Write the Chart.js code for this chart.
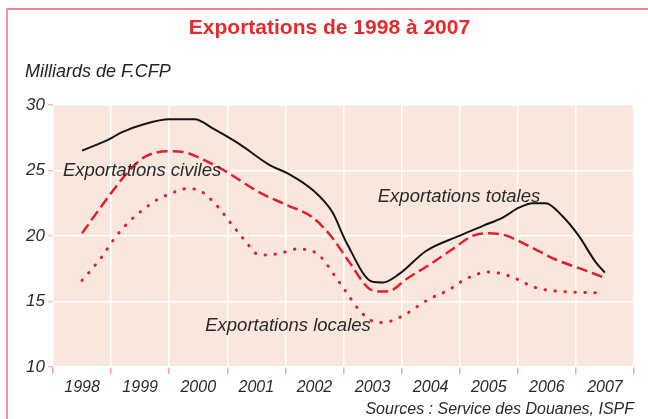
<!DOCTYPE html>
<html lang="fr">
<head>
    <meta charset="UTF-8">
    <title>Exportations de 1998 à 2007</title>
    <script src="https://cdn.jsdelivr.net/npm/chart.js"></script>
    <style>
        body {
            margin: 0;
            width: 648px;
            height: 419px;
            overflow: hidden;
            background: #fff;
            position: relative;
        }
        .cadre {
            position: absolute;
            left: 6px;
            top: 8px;
            width: 700px;
            height: 500px;
            border-left: 2px solid #f29696;
            border-top: 2px solid #f08888;
        }
        canvas {
            position: absolute;
            left: 0;
            top: 0;
        }
    </style>
</head>
<body>
<div class="cadre"></div>
<canvas id="exportChart" width="648" height="419"></canvas>

<script>
    // Années (catégories de l'axe X)
    const annees = ['1998', '1999', '2000', '2001', '2002', '2003', '2004', '2005', '2006', '2007'];
    const graduationsY = [10, 15, 20, 25, 30];

    // Exportations totales (milliards de F.CFP)
    const totalesX = [1998.0, 1998.48, 1998.68, 1999.05, 1999.5, 1999.94, 2000.25, 2000.71, 2001.23, 2001.57,
        2001.97, 2002.31, 2002.55, 2003.0, 2003.18, 2003.46, 2003.92, 2004.49, 2004.89, 2005.24,
        2005.52, 2005.75, 2005.98, 2006.27, 2006.55, 2006.84, 2007.0];
    const totalesY = [26.5, 27.4, 27.9, 28.5, 28.9, 28.9, 28.2, 27.0, 25.4, 24.7,
        23.5, 21.8, 19.5, 16.5, 16.45, 17.1, 18.85, 20.0, 20.75, 21.4,
        22.15, 22.5, 22.5, 21.5, 20.0, 18.0, 17.2];

    // Exportations civiles
    const civilesX = [1998.0, 1998.54, 1998.88, 1999.11, 1999.5, 1999.74, 2000.14, 2000.48, 2001.06, 2001.5,
        2001.97, 2002.3, 2002.6, 2002.95, 2003.15, 2003.3, 2003.58, 2003.98, 2004.38, 2004.72,
        2004.95, 2005.24, 2005.7, 2006.15, 2006.61, 2007.0];
    const civilesY = [20.2, 23.5, 25.3, 26.1, 26.45, 26.4, 25.7, 24.9, 23.3, 22.4,
        21.4, 19.9, 18.0, 15.95, 15.75, 15.8, 16.7, 17.8, 19.0, 20.0,
        20.2, 20.1, 19.2, 18.2, 17.45, 16.8];

    // Exportations locales
    const localesX = [1998.0, 1998.34, 1998.54, 1998.77, 1999.05, 1999.31, 1999.51, 1999.8, 2000.0, 2000.25,
        2000.6, 2000.83, 2001.0, 2001.2, 2001.52, 2001.69, 2002.03, 2002.15, 2002.35, 2002.55,
        2002.75, 2003.0, 2003.18, 2003.52, 2003.8, 2003.98, 2004.32, 2004.6, 2005.0, 2005.35,
        2005.81, 2006.15, 2006.5, 2006.95];
    const localesY = [16.6, 18.4, 19.7, 20.9, 22.0, 22.8, 23.2, 23.6, 23.5, 22.65,
        20.75, 19.5, 18.65, 18.55, 18.8, 19.0, 18.7, 18.2, 16.95, 15.7,
        14.45, 13.5, 13.4, 13.9, 14.7, 15.2, 15.9, 16.7, 17.25, 16.95,
        16.05, 15.8, 15.7, 15.65];

    const police = "'Liberation Sans', Arial, sans-serif";
    const rose = '#f3a3aa';

    function points(xs, ys) {
        return xs.map((x, i) => ({ x: x, y: ys[i] }));
    }

    // fond saumon de la zone de tracé
    const fondPlugin = {
        id: 'fond',
        beforeDraw(chart) {
            const a = chart.chartArea;
            const ctx = chart.ctx;
            ctx.save();
            ctx.fillStyle = '#f9e7dd';
            ctx.fillRect(a.left, a.top, a.right - a.left, a.bottom - a.top);
            ctx.restore();
        }
    };

    // étiquettes des courbes
    const etiquettes = [
        { texte: 'Exportations civiles', x: 1997.67, y: 24.95 },
        { texte: 'Exportations totales', x: 2003.09, y: 23.0 },
        { texte: 'Exportations locales', x: 2000.12, y: 13.1 }
    ];
    const etiquettesPlugin = {
        id: 'etiquettes',
        afterDatasetsDraw(chart) {
            const ctx = chart.ctx;
            const sx = chart.scales.x, sy = chart.scales.y;
            ctx.save();
            ctx.font = 'italic 18.5px ' + police;
            ctx.fillStyle = '#2a2a2a';
            ctx.textAlign = 'left';
            ctx.textBaseline = 'middle';
            etiquettes.forEach(e => {
                ctx.fillText(e.texte, sx.getPixelForValue(e.x), sy.getPixelForValue(e.y));
            });
            ctx.restore();
        }
    };

    const config = {
        type: 'line',
        data: {
            datasets: [
                {
                    label: 'Exportations totales',
                    data: points(totalesX, totalesY),
                    borderColor: '#151515',
                    borderWidth: 2,
                    pointRadius: 0,
                    cubicInterpolationMode: 'monotone'
                },
                {
                    label: 'Exportations civiles',
                    data: points(civilesX, civilesY),
                    borderColor: '#e2202c',
                    borderWidth: 2.5,
                    borderDash: [11, 5],
                    pointRadius: 0,
                    cubicInterpolationMode: 'monotone'
                },
                {
                    label: 'Exportations locales',
                    data: points(localesX, localesY),
                    borderColor: '#e2202c',
                    borderWidth: 3,
                    borderDash: [0.5, 9.5],
                    borderCapStyle: 'round',
                    pointRadius: 0,
                    cubicInterpolationMode: 'monotone'
                }
            ]
        },
        options: {
            responsive: false,
            animation: false,
            devicePixelRatio: 1,
            layout: {
                padding: { left: 25, right: 14, top: 0, bottom: 0 }
            },
            plugins: {
                legend: { display: false },
                tooltip: { enabled: false },
                title: {
                    display: true,
                    text: 'Exportations de 1998 à 2007',
                    color: '#e8292b',
                    font: { family: police, size: 21, weight: 'bold', lineHeight: 1.2 },
                    padding: { top: 16, bottom: 8 }
                },
                subtitle: {
                    display: true,
                    text: 'Milliards de F.CFP',
                    align: 'start',
                    color: '#222',
                    font: { family: police, size: 18, style: 'italic', lineHeight: 1.2 },
                    padding: { top: 12, bottom: 22 }
                }
            },
            scales: {
                x: {
                    type: 'linear',
                    min: 1997.5,
                    max: 2007.5,
                    afterBuildTicks(scale) {
                        const t = [];
                        annees.forEach(a => {
                            t.push({ value: +a - 0.5 });
                            t.push({ value: +a });
                        });
                        t.push({ value: +annees[annees.length - 1] + 0.5 });
                        scale.ticks = t;
                    },
                    afterFit(scale) {
                        scale.height = 52;
                    },
                    border: { display: false },
                    grid: {
                        color: c => (c.tick && !Number.isInteger(c.tick.value)) ? '#ffffff' : 'rgba(0,0,0,0)',
                        tickColor: c => (c.tick && !Number.isInteger(c.tick.value)) ? rose : 'rgba(0,0,0,0)',
                        lineWidth: 1.5,
                        tickWidth: 1.5,
                        tickLength: 7
                    },
                    ticks: {
                        autoSkip: false,
                        maxRotation: 0,
                        padding: 4,
                        color: '#2a2a2a',
                        font: { family: police, size: 16, style: 'italic' },
                        callback: v => Number.isInteger(v) ? String(v) : ''
                    },
                    title: {
                        display: true,
                        text: 'Sources : Service des Douanes, ISPF',
                        align: 'end',
                        color: '#2a2a2a',
                        font: { family: police, size: 16, style: 'italic', lineHeight: 1.2 },
                        padding: { top: 0, bottom: 0 }
                    }
                },
                y: {
                    min: 10,
                    max: 30,
                    afterBuildTicks(scale) {
                        scale.ticks = graduationsY.map(v => ({ value: v }));
                    },
                    afterFit(scale) {
                        scale.width = 28;
                    },
                    border: { display: false },
                    grid: {
                        color: '#ffffff',
                        tickColor: rose,
                        lineWidth: 1.5,
                        tickWidth: 1,
                        tickLength: 5
                    },
                    ticks: {
                        padding: 3,
                        color: '#2a2a2a',
                        font: { family: police, size: 17, style: 'italic' }
                    }
                }
            }
        },
        plugins: [fondPlugin, etiquettesPlugin]
    };

    const ctx = document.getElementById('exportChart').getContext('2d');
    const exportChart = new Chart(ctx, config);
</script>
</body>
</html>
